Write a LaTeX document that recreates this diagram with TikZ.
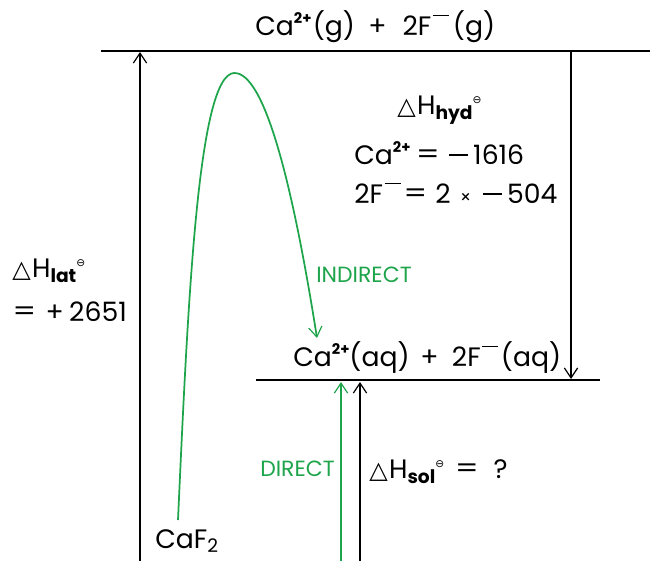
\documentclass[tikz,border=0pt]{standalone}
\usepackage{fontspec}
\setmainfont{Poppins}
\newfontfamily\dejavu{DejaVu Sans}
\usetikzlibrary{arrows.meta}
\definecolor{grn}{RGB}{30,165,75}
\newcommand{\dH}{{\dejavu\fontsize{18}{18}\selectfont △}\hspace{0.05em}H}
\newcommand{\stdst}{\raisebox{0.75ex}{\dejavu\fontsize{8}{8}\selectfont ⊖}}
\newcommand{\sbs}[1]{\raisebox{-0.4ex}{\fontsize{14}{14}\selectfont\bfseries #1}}
\newcommand{\sbr}[1]{\raisebox{-0.3ex}{\fontsize{14}{14}\selectfont #1}}
\newcommand{\spr}[1]{\raisebox{0.8ex}{\fontsize{11}{11}\selectfont\bfseries #1}}
\newcommand{\spm}{\hspace{0.06em}\rule[0.7em]{0.6em}{0.065em}}
\newcommand{\mns}{\rule[0.3em]{0.7em}{0.065em}}
\newcommand{\eqs}{\raisebox{0.02em}{\scalebox{1.25}[1]{=}}}
\tikzset{
  lbl/.style={inner sep=0pt, anchor=base west, font=\fontsize{20}{24}\selectfont},
  glbl/.style={inner sep=0pt, anchor=base west, text=grn, font=\fontsize{16.5}{18}\selectfont},
  level/.style={line width=1.3pt, black},
  arr/.style={line width=0.9pt, -{Straight Barb[length=7.5pt,width=10pt,line width=0.9pt]}},
  garr/.style={arr, grn, line width=1.3pt}
}
\begin{document}
\begin{tikzpicture}[x=0.75pt,y=-0.75pt]
\useasboundingbox (0,0) rectangle (650,561);
% levels
\coordinate (tl) at (101,51);
\coordinate (tr) at (650,51);
\coordinate (ml) at (256,380);
\coordinate (mr) at (600,380);
\draw[level] (tl) -- (tr);
\draw[level] (ml) -- (mr);
% texts
\node[lbl] (top) at (255,35) {Ca\spr{2+}\hspace{0.05em}(g)\hspace{0.5em}+\hspace{0.6em}2F\spm\hspace{0.15em}(g)};
\node[lbl] (aq) at (293,366) {Ca\spr{2+}(aq)\hspace{0.4em}+\hspace{0.5em}2F\spm\hspace{0.1em}(aq)};
\node[lbl] (hyd) at (397,114) {\dH\sbs{hyd}\stdst};
\node[lbl] (hca) at (354,164) {Ca\spr{2+}\hspace{0.2em}\eqs\hspace{0.35em}\mns\hspace{0.2em}1616};
\node[lbl] (hf) at (354,203) {2F\spm\hspace{0.1em}\eqs\hspace{0.3em}2\hspace{0.35em}{\fontsize{13}{13}\selectfont ×}\hspace{0.45em}\mns\hspace{0.2em}504};
\node[lbl] (lat) at (12,277) {\dH\sbs{lat}\stdst};
\node[lbl] (latv) at (12,321) {\eqs\hspace{0.35em}+\hspace{0.2em}2651};
\node[lbl] (caf) at (155,548) {CaF\sbr{2}};
\node[lbl] (sol) at (369,478) {\dH\sbs{sol}\stdst\hspace{0.4em}\eqs\hspace{0.55em}?};
\node[glbl] (ind) at (316,282) {INDIRECT};
\node[glbl] (dir) at (260,476) {DIRECT};
% arrows
\coordinate (latb) at (140,561);
\coordinate (latt) at (140,52);
\draw[arr] (latb) -- (latt);
\coordinate (hydt) at (571,51);
\coordinate (hydb) at (571,379);
\draw[arr] (hydt) -- (hydb);
\coordinate (solb) at (360,561);
\coordinate (solt) at (360,382);
\draw[arr] (solb) -- (solt);
\coordinate (dirb) at (341,561);
\coordinate (dirt) at (341,382);
\draw[garr] (dirb) -- (dirt);
\coordinate (cs) at (178,520);
\coordinate (ce) at (317,338);
\draw[garr] (cs) .. controls (188,300) and (198,75) .. (234,73) .. controls (264,72) and (292,180) .. (ce);
\end{tikzpicture}
\end{document}
